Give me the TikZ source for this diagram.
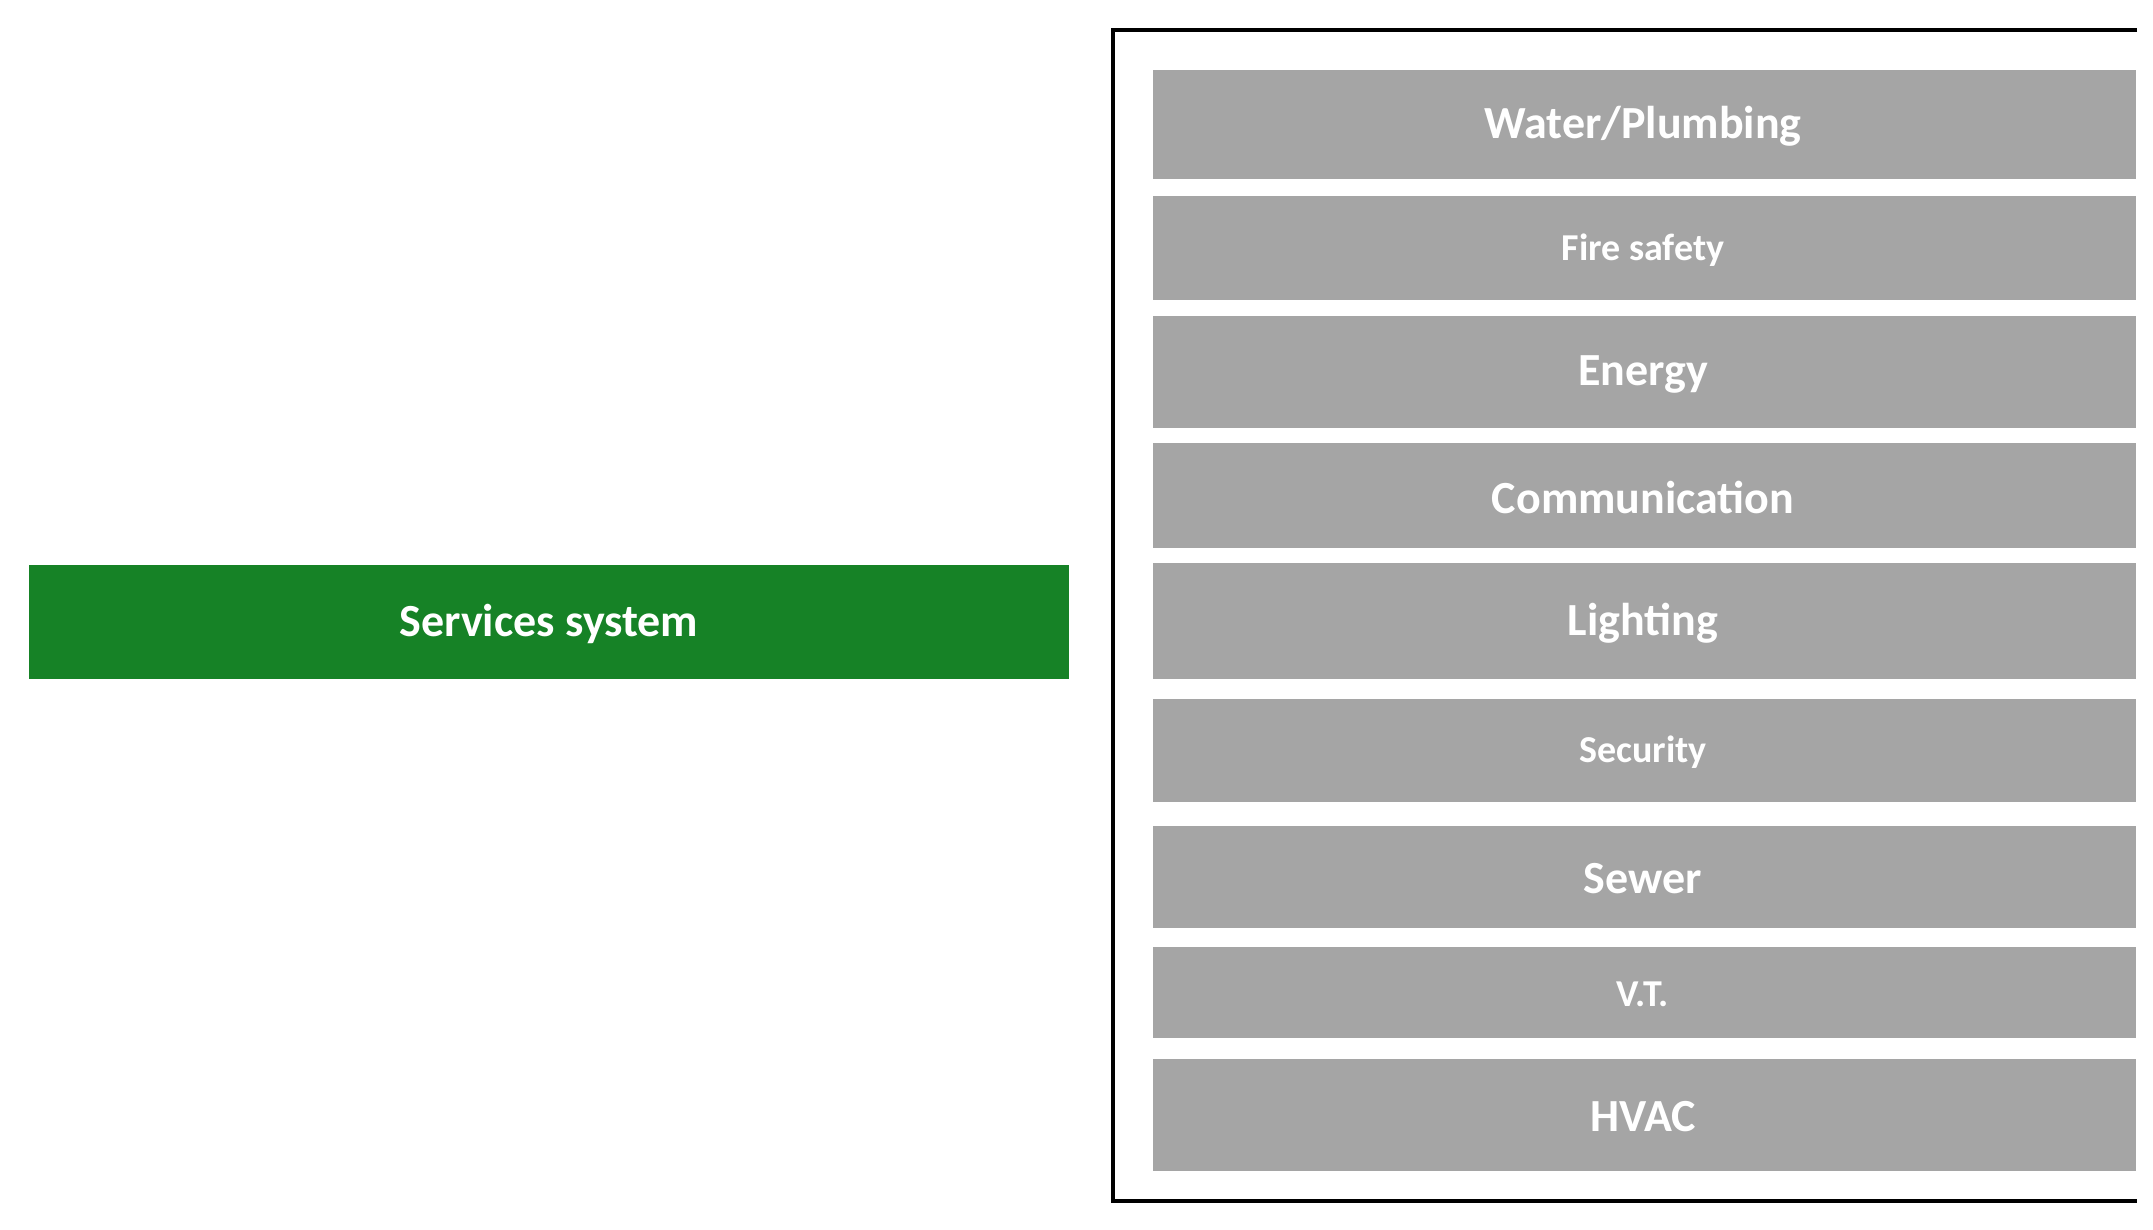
\documentclass[tikz,border=0pt]{standalone}
\usepackage{fontspec}
\setmainfont{Carlito}
\definecolor{gr}{RGB}{22,130,38}
\definecolor{gy}{RGB}{165,165,165}
\begin{document}
\begin{tikzpicture}[x=1pt,y=-1pt,
  big/.style={font=\bfseries\fontsize{46}{50}\selectfont},
  small/.style={font=\bfseries\fontsize{38}{42}\selectfont},
  item/.style={fill=gy,text=white}]
\useasboundingbox (0,0) rectangle (2153,1230);
\fill[gr] (29,565) rectangle (1069,679);
\node[text=white,big] (ss) at (549,624) {Services system};
\draw[line width=4pt] (2137,30) -- (1113,30) -- (1113,1201) -- (2137,1201);
\foreach \a/\b/\t/\s/\n in {70/179/Water\slash Plumbing/big/w,196/300/Fire safety/small/f,316/428/Energy/big/e,443/548/Communication/big/c,563/679/Lighting/big/l,699/802/Security/small/s,826/928/Sewer/big/sw,947/1038/V.T./small/v,1059/1171/HVAC/big/h}{
  \fill[gy] (1153,\a) rectangle (2136,\b);
  \node[text=white,\s] (\n) at (1643,{(\a+\b)/2+2}) {\t};
}
\end{tikzpicture}
\end{document}
